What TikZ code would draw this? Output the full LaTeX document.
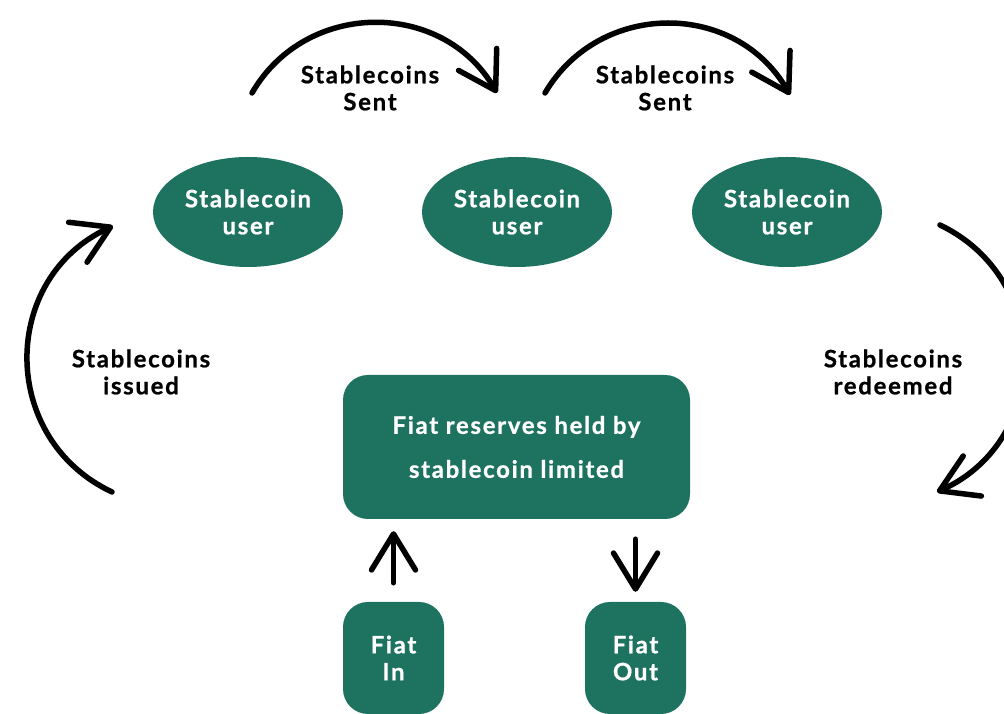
\documentclass[tikz,border=0pt]{standalone}
\usepackage{fontspec}
\setmainfont{Lato}[LetterSpace=7,BoldFeatures={FakeBold=0.8}]
\usetikzlibrary{arrows.meta,shapes.geometric}
\definecolor{teal}{RGB}{29,114,96}

\begin{document}
\begin{tikzpicture}[x=1pt,y=1pt,line cap=round,
    txt/.style={align=center,font=\fontsize{24}{27}\selectfont\bfseries},
    user/.style={ellipse,fill=teal,text=white,minimum width=190pt,minimum height=110pt,txt},
    box/.style={rectangle,rounded corners=25pt,fill=teal,text=white,txt},
    hand/.style={line width=5.5pt,-{Straight Barb[round,length=36pt,width=44pt]}}]
  \useasboundingbox (0,0) rectangle (1004,714);
  \clip (0,0) rectangle (1004,714);

  \node[user] (user1) at (248,502) {Stablecoin\\user};
  \node[user] (user2) at (517,502) {Stablecoin\\user};
  \node[user] (user3) at (787,502) {Stablecoin\\user};

  \node[box,minimum width=347pt,minimum height=144pt,
    font=\fontsize{24}{44}\selectfont\bfseries] (reserves) at (516.5,267)
    {Fiat reserves held by\\stablecoin limited};
  \node[box,minimum width=101pt,minimum height=112pt] (fiatin) at (393.5,56) {Fiat\\In};
  \node[box,minimum width=101pt,minimum height=112pt] (fiatout) at (635.5,56) {Fiat\\Out};

  \node[txt] (sent1) at (370,626) {Stablecoins\\Sent};
  \node[txt] (sent2) at (665,626) {Stablecoins\\Sent};
  \node[txt] (issued) at (141,342) {Stablecoins\\issued};
  \node[txt] (redeemed) at (893,342) {Stablecoins\\redeemed};

  \coordinate (s1a) at (252,621);
  \coordinate (s1b) at (497,621);
  \coordinate (s2a) at (545,621);
  \coordinate (s2b) at (790,619);
  \coordinate (isa) at (112,222);
  \coordinate (isb) at (113,488);
  \coordinate (rda) at (940,489);
  \coordinate (rdb) at (937,222);

  \draw[hand] (s1a) to[bend left=60,looseness=1.13] (s1b);
  \draw[hand] (s2a) to[bend left=60,looseness=1.13] (s2b);
  \draw[hand] (isa) to[bend left=65,looseness=1.2] (isb);
  \draw[hand] (rda) to[bend left=65,looseness=1.2] (rdb);

  \draw[hand,shorten <=19pt,shorten >=12pt] (fiatin.north) -- (fiatin |- reserves.south);
  \draw[hand,shorten <=20pt,shorten >=10pt] (fiatout |- reserves.south) -- (fiatout.north);
\end{tikzpicture}
\end{document}
